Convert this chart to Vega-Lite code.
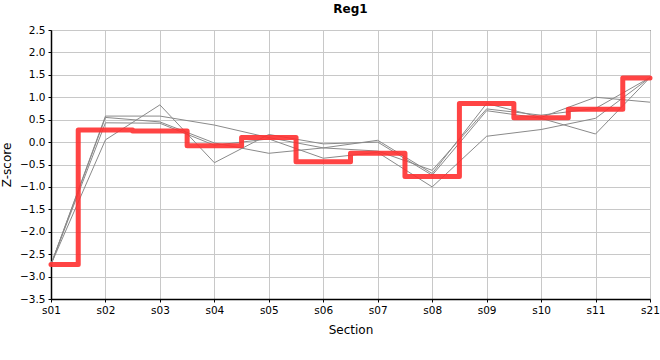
{
  "$schema": "https://vega.github.io/schema/vega-lite/v6.json",
  "autosize": {"type": "none"},
  "width": 599,
  "height": 269,
  "padding": {"left": 51, "top": 30, "right": 10, "bottom": 61},
  "background": "white",
  "title": {"text": "Reg1", "font": "DejaVu Sans", "fontSize": 12, "fontWeight": "bold", "color": "black", "offset": 9},
  "config": {
    "view": {"stroke": "black", "strokeWidth": 1},
    "axis": {
      "labelFont": "DejaVu Sans", "labelFontSize": 10.5, "labelColor": "black",
      "titleFont": "DejaVu Sans", "titleFontSize": 12, "titleFontWeight": "normal", "titleColor": "black",
      "gridColor": "#c8c8c8", "gridWidth": 1, "gridOpacity": 1,
      "domainColor": "black", "domainWidth": 1.5,
      "tickColor": "black", "tickSize": 3
    }
  },
  "datasets": {
    "grays": [
      {"section": "s01", "series": "A", "value": -2.73},
      {"section": "s02", "series": "A", "value": 0.05},
      {"section": "s03", "series": "A", "value": 0.83},
      {"section": "s04", "series": "A", "value": -0.46},
      {"section": "s05", "series": "A", "value": 0.17},
      {"section": "s06", "series": "A", "value": -0.04},
      {"section": "s07", "series": "A", "value": 0.0},
      {"section": "s08", "series": "A", "value": -0.74},
      {"section": "s09", "series": "A", "value": 0.7},
      {"section": "s10", "series": "A", "value": 0.53},
      {"section": "s11", "series": "A", "value": 0.18},
      {"section": "s21", "series": "A", "value": 1.44},
      {"section": "s01", "series": "B", "value": -2.73},
      {"section": "s02", "series": "B", "value": 0.58},
      {"section": "s03", "series": "B", "value": 0.58},
      {"section": "s04", "series": "B", "value": 0.38},
      {"section": "s05", "series": "B", "value": 0.1},
      {"section": "s06", "series": "B", "value": -0.13},
      {"section": "s07", "series": "B", "value": 0.04},
      {"section": "s08", "series": "B", "value": -0.7},
      {"section": "s09", "series": "B", "value": 0.86},
      {"section": "s10", "series": "B", "value": 0.55},
      {"section": "s11", "series": "B", "value": 1.0},
      {"section": "s21", "series": "B", "value": 0.89},
      {"section": "s01", "series": "C", "value": -2.73},
      {"section": "s02", "series": "C", "value": 0.55},
      {"section": "s03", "series": "C", "value": 0.45},
      {"section": "s04", "series": "C", "value": -0.02},
      {"section": "s05", "series": "C", "value": -0.25},
      {"section": "s06", "series": "C", "value": -0.13},
      {"section": "s07", "series": "C", "value": -0.2},
      {"section": "s08", "series": "C", "value": -0.63},
      {"section": "s09", "series": "C", "value": 0.74},
      {"section": "s10", "series": "C", "value": 0.6},
      {"section": "s11", "series": "C", "value": 0.75},
      {"section": "s21", "series": "C", "value": 1.44},
      {"section": "s01", "series": "D", "value": -2.73},
      {"section": "s02", "series": "D", "value": 0.43},
      {"section": "s03", "series": "D", "value": 0.42},
      {"section": "s04", "series": "D", "value": -0.07},
      {"section": "s05", "series": "D", "value": 0.07},
      {"section": "s06", "series": "D", "value": -0.36},
      {"section": "s07", "series": "D", "value": -0.23},
      {"section": "s08", "series": "D", "value": -1.0},
      {"section": "s09", "series": "D", "value": 0.13},
      {"section": "s10", "series": "D", "value": 0.28},
      {"section": "s11", "series": "D", "value": 0.53},
      {"section": "s21", "series": "D", "value": 1.44}
    ],
    "red": [
      {"section": "s01", "value": -2.73},
      {"section": "s02", "value": 0.27},
      {"section": "s03", "value": 0.25},
      {"section": "s04", "value": -0.08},
      {"section": "s05", "value": 0.1},
      {"section": "s06", "value": -0.44},
      {"section": "s07", "value": -0.25},
      {"section": "s08", "value": -0.77},
      {"section": "s09", "value": 0.86},
      {"section": "s10", "value": 0.54},
      {"section": "s11", "value": 0.73},
      {"section": "s21", "value": 1.43}
    ]
  },
  "encoding": {
    "x": {
      "field": "section", "type": "ordinal", "sort": null,
      "scale": {"type": "point", "padding": 0},
      "axis": {"title": "Section", "labelAngle": 0, "grid": true, "titlePadding": 9, "labelPadding": 3}
    },
    "y": {
      "field": "value", "type": "quantitative",
      "scale": {"domain": [-3.5, 2.5], "nice": false, "zero": false},
      "axis": {"title": "Z-score", "format": ".1f", "values": [-3.5, -3, -2.5, -2, -1.5, -1, -0.5, 0, 0.5, 1, 1.5, 2, 2.5], "grid": true, "titlePadding": 6, "labelPadding": 3}
    }
  },
  "layer": [
    {
      "data": {"name": "grays"},
      "mark": {"type": "line", "color": "#8a8a8a", "strokeWidth": 1},
      "encoding": {"detail": {"field": "series"}}
    },
    {
      "data": {"name": "red"},
      "mark": {"type": "line", "interpolate": "step", "color": "#ff3030", "opacity": 0.9, "strokeWidth": 5, "strokeJoin": "round", "strokeCap": "round"}
    }
  ]
}
